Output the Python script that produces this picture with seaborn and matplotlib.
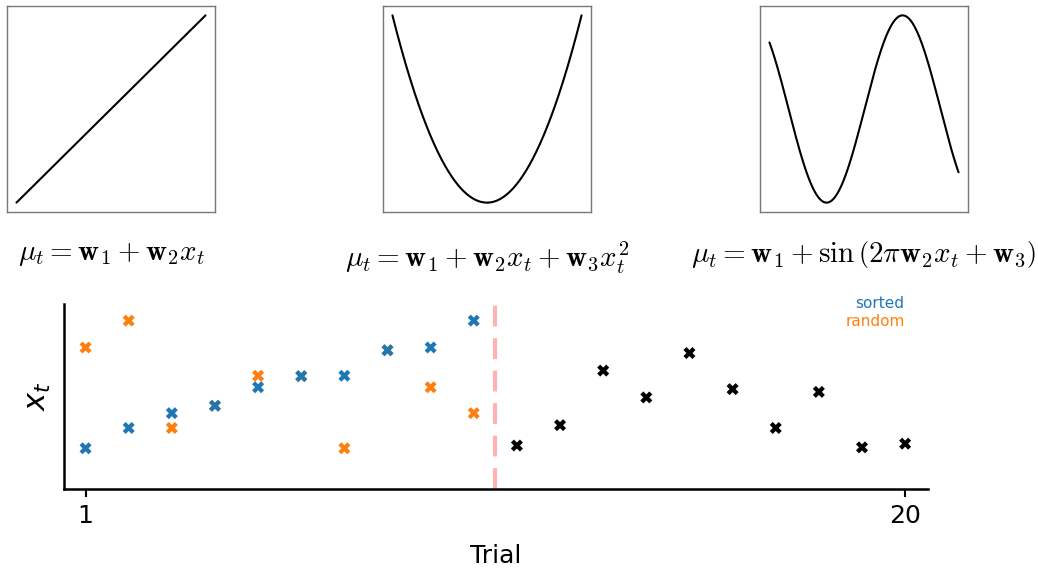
import numpy as np
import pandas as pd
import matplotlib
matplotlib.use("Agg")
import matplotlib.pyplot as plt
import seaborn as sns

sns.set_theme(style="white")
plt.rcParams["font.family"] = ["DejaVu Sans"]
plt.rcParams["mathtext.fontset"] = "cm"
plt.rcParams["text.color"] = "black"
plt.rcParams["axes.labelcolor"] = "black"
plt.rcParams["xtick.color"] = "black"
plt.rcParams["ytick.color"] = "black"

# Observed inputs x_t per trial
train_trials = list(range(1, 11))
test_trials = list(range(11, 21))
sorted_x = [0.22, 0.33, 0.41, 0.45, 0.55, 0.61, 0.612, 0.75, 0.765, 0.91]
random_x = [0.765, 0.91, 0.33, 0.45, 0.612, 0.61, 0.22, 0.75, 0.55, 0.41]
test_x = [0.235, 0.345, 0.64, 0.495, 0.735, 0.54, 0.33, 0.525, 0.225, 0.245]

# Parameters of the three example mean functions
quad_center = 0.5
sin_w2 = 1.244
sin_w3 = 2.351

labels = [
    r"$\mu_t = \mathbf{w}_1 + \mathbf{w}_2 x_t$",
    r"$\mu_t = \mathbf{w}_1 + \mathbf{w}_2 x_t + \mathbf{w}_3 x_t^2$",
    r"$\mu_t = \mathbf{w}_1 + \sin\left(2\pi\mathbf{w}_2 x_t + \mathbf{w}_3\right)$",
]

W, H = 1038, 572
fig = plt.figure(figsize=(W / 100, H / 100), dpi=100)

def px_axes(left, top, right, bottom):
    return fig.add_axes([left / W, 1 - bottom / H, (right - left) / W, (bottom - top) / H])

grid = np.linspace(0, 1, 300)
curves = [
    grid,
    (grid - quad_center) ** 2,
    np.sin(2 * np.pi * sin_w2 * grid + sin_w3),
]
lefts = [7, 383, 760]
for left, ys, lab in zip(lefts, curves, labels):
    ax = px_axes(left, 6, left + 208, 212)
    sns.lineplot(x=grid, y=ys, ax=ax, color="black", linewidth=1.5)
    ax.set_xticks([])
    ax.set_yticks([])
    for sp in ax.spines.values():
        sp.set_color("#777777")
        sp.set_linewidth(1.0)
    ax.set_xlabel(lab, fontsize=21, labelpad=20, color="black")

# Trial sequence panel
ax = px_axes(64, 304, 928, 489)
df_sorted = pd.DataFrame({"trial": train_trials, "x": sorted_x})
df_random = pd.DataFrame({"trial": train_trials, "x": random_x})
df_test = pd.DataFrame({"trial": test_trials, "x": test_x})

ax.axvline(10.5, color="red", alpha=0.3, linestyle=(0, (5, 2.8)), linewidth=3, zorder=1)
sns.scatterplot(data=df_random, x="trial", y="x", ax=ax, marker="X", s=75,
                color="#ff7f0e", edgecolor="none", zorder=2)
sns.scatterplot(data=df_sorted, x="trial", y="x", ax=ax, marker="X", s=75,
                color="#1f77b4", edgecolor="none", zorder=3)
sns.scatterplot(data=df_test, x="trial", y="x", ax=ax, marker="X", s=75,
                color="black", edgecolor="none", zorder=3)

ax.set_xlim(0.5, 20.53)
ax.set_ylim(0, 1)
ax.set_xticks([1, 20])
ax.set_xticklabels(["1", "20"], fontsize=18)
ax.set_yticks([])
ax.tick_params(axis="x", bottom=True, length=6, width=1.5, color="black", pad=5)
for side in ["top", "right"]:
    ax.spines[side].set_visible(False)
for side in ["left", "bottom"]:
    ax.spines[side].set_color("black")
    ax.spines[side].set_linewidth(1.8)
ax.set_xlabel("Trial", fontsize=18, labelpad=11)
ax.set_ylabel(r"$x_t$", fontsize=22, labelpad=8, math_fontfamily="dejavusans")

ax.text(0.973, 1.0, "sorted", transform=ax.transAxes, ha="right", va="center",
        color="#1f77b4", fontsize=11)
ax.text(0.973, 0.907, "random", transform=ax.transAxes, ha="right", va="center",
        color="#ff7f0e", fontsize=11)

fig.savefig("out.png", dpi=100)
